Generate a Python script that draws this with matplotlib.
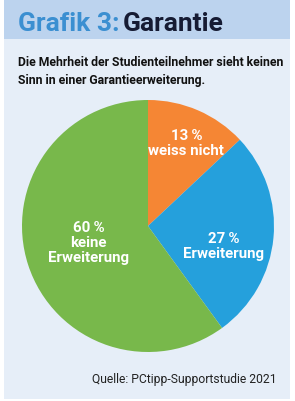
import numpy as np
import matplotlib.pyplot as plt
from matplotlib.patches import Rectangle

# Daten
kategorien = ["weiss nicht", "Erweiterung", "keine\nErweiterung"]
anteile = [13, 27, 60]
farben = ["#f58634", "#25a0dc", "#78b84b"]
# Position der Beschriftungen (Radius, Winkel in Grad), relativ zur Tortenmitte
label_pos = [(0.72, 65), (0.62, -15), (0.49, 196)]

W, H = 295, 401
fig = plt.figure(figsize=(W / 100, H / 100), dpi=100)
fig.patch.set_facecolor("white")

# Hintergrund: Körper und Titelband
fig.patches.append(Rectangle((4 / W, 2 / H), 286 / W, 399 / H, transform=fig.transFigure,
                             facecolor="#e6eef8", edgecolor="none", zorder=-2))
fig.patches.append(Rectangle((4 / W, (H - 39) / H), 286 / W, 39 / H, transform=fig.transFigure,
                             facecolor="#bcd3ee", edgecolor="none", zorder=-1))

font = "Roboto"
t1 = fig.text(18 / W, 1 - 31 / H, "Grafik 3: ", fontsize=19, fontweight="bold",
              color="#3b8fd1", family=font, va="baseline")
fig.canvas.draw()
bb = t1.get_window_extent()
fig.text(bb.x1 / W - 0.01, 1 - 31 / H, "Garantie", fontsize=19, fontweight="bold",
         color="#161b33", family=font, va="baseline")

fig.text(18 / W, 1 - 66 / H, "Die Mehrheit der Studienteilnehmer sieht keinen",
         fontsize=8.8, fontweight="bold", color="#111111", family=font, va="baseline")
fig.text(18 / W, 1 - 84 / H, "Sinn in einer Garantieerweiterung.",
         fontsize=8.8, fontweight="bold", color="#111111", family=font, va="baseline")

fig.text(277 / W, 1 - 383 / H, "Quelle: PCtipp-Supportstudie 2021",
         fontsize=8.7, color="#222222", family=font, ha="right", va="baseline")

# Torte
ax = fig.add_axes([22 / W, 49 / H, 252 / W, 252 / H])
ax.pie(anteile, colors=farben, startangle=90, counterclock=False,
       wedgeprops=dict(linewidth=0))
ax.set_xlim(-1, 1)
ax.set_ylim(-1, 1)
ax.set_aspect("equal")
ax.axis("off")

for kat, wert, (r, ang) in zip(kategorien, anteile, label_pos):
    x = r * np.cos(np.radians(ang))
    y = r * np.sin(np.radians(ang))
    ax.text(x, y, f"{wert}\u2009%\n{kat}", ha="center", va="center", color="white",
            fontsize=10.8, fontweight="bold", family=font, linespacing=1.1)

fig.savefig("out.png", dpi=100)
